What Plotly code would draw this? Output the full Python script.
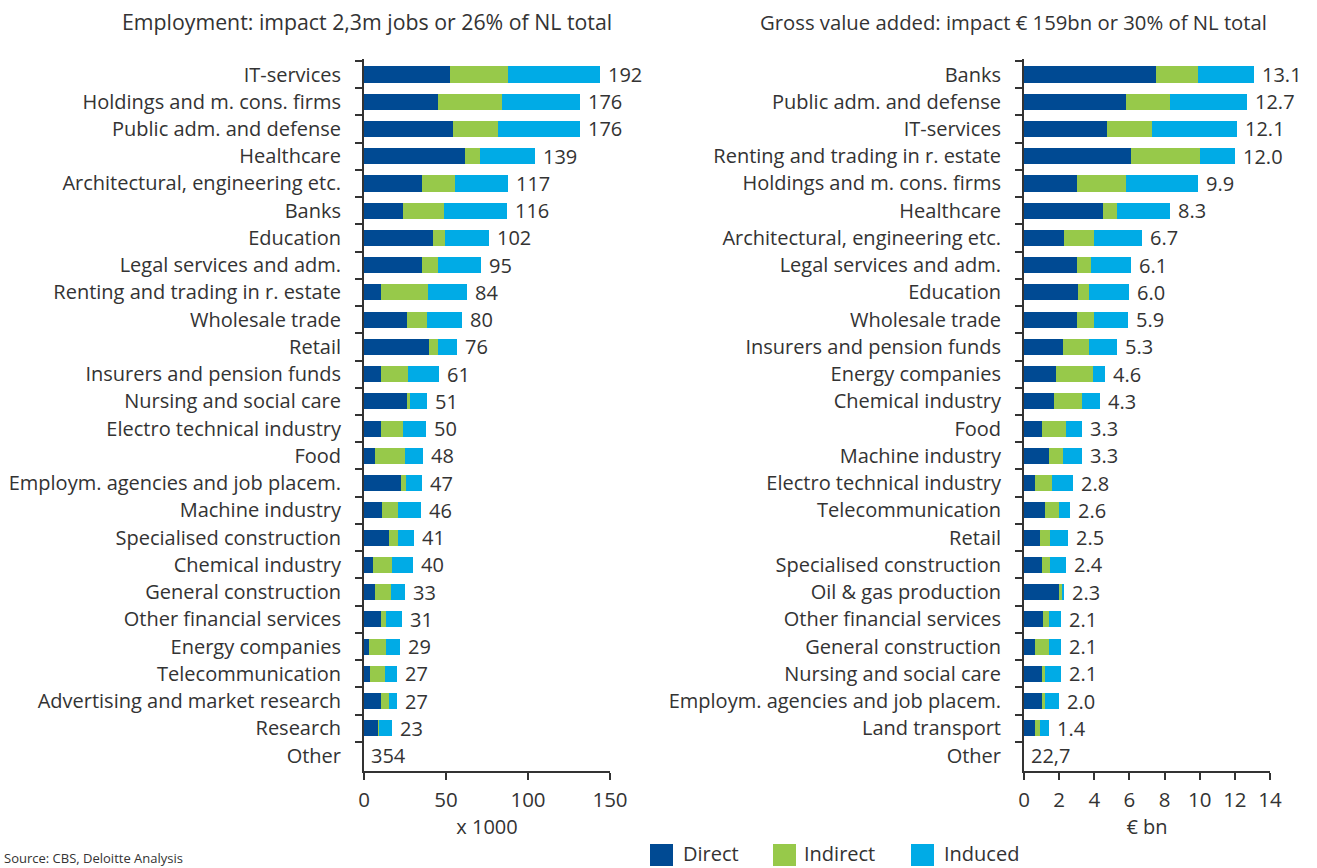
import plotly.graph_objects as go

W, H = 1317, 868

# ---- Employment (thousand jobs) ----
emp_sectors = [
    "IT-services", "Holdings and m. cons. firms", "Public adm. and defense", "Healthcare",
    "Architectural, engineering etc.", "Banks", "Education", "Legal services and adm.",
    "Renting and trading in r. estate", "Wholesale trade", "Retail", "Insurers and pension funds",
    "Nursing and social care", "Electro technical industry", "Food",
    "Employm. agencies and job placem.", "Machine industry", "Specialised construction",
    "Chemical industry", "General construction", "Other financial services", "Energy companies",
    "Telecommunication", "Advertising and market research", "Research",
]
emp_direct = [70, 60, 72, 82, 47, 32, 56, 47, 14, 35, 53, 14, 35, 14, 9, 30, 15, 20, 7, 9, 14, 4, 5, 14, 11.5]
emp_indirect = [47, 52, 37, 12, 27, 33, 10, 13, 38, 16, 7, 22, 2, 18, 24, 4, 13, 8, 16, 13, 4, 14, 12, 6, 0.8]
emp_induced = [75, 64, 67, 45, 43, 51, 36, 35, 32, 29, 16, 25, 14, 18, 15, 13, 18, 13, 17, 11, 13, 11, 10, 7, 10.7]
emp_other = 354
# bars are plotted in full-time equivalents on the "x 1000" axis
FTE_PER_JOB = 0.75

# ---- Gross value added (EUR bn) ----
gva_sectors = [
    "Banks", "Public adm. and defense", "IT-services", "Renting and trading in r. estate",
    "Holdings and m. cons. firms", "Healthcare", "Architectural, engineering etc.",
    "Legal services and adm.", "Education", "Wholesale trade", "Insurers and pension funds",
    "Energy companies", "Chemical industry", "Food", "Machine industry",
    "Electro technical industry", "Telecommunication", "Retail", "Specialised construction",
    "Oil & gas production", "Other financial services", "General construction",
    "Nursing and social care", "Employm. agencies and job placem.", "Land transport",
]
gva_direct = [7.5, 5.8, 4.7, 6.1, 3.0, 4.5, 2.3, 3.0, 3.1, 3.0, 2.2, 1.8, 1.7, 1.0, 1.4, 0.6, 1.2, 0.9, 1.0, 2.0, 1.1, 0.6, 1.0, 1.0, 0.6]
gva_indirect = [2.4, 2.5, 2.6, 3.9, 2.8, 0.8, 1.7, 0.8, 0.6, 1.0, 1.5, 2.1, 1.6, 1.4, 0.8, 1.0, 0.8, 0.6, 0.5, 0.2, 0.3, 0.8, 0.2, 0.2, 0.3]
gva_induced = [3.2, 4.4, 4.8, 2.0, 4.1, 3.0, 2.7, 2.3, 2.3, 1.9, 1.6, 0.7, 1.0, 0.9, 1.1, 1.2, 0.6, 1.0, 0.9, 0.1, 0.7, 0.7, 0.9, 0.8, 0.5]
gva_other = 22.7

components = ["Direct", "Indirect", "Induced"]
colors = {"Direct": "#004A93", "Indirect": "#97C94A", "Induced": "#00ABE6"}

FONT = "Open Sans"
TXT = "#333333"
AX = "#333333"


def px_x(p):
    return p / W


def px_y(p):
    return 1 - p / H


fig = go.Figure()

emp_series = {"Direct": emp_direct, "Indirect": emp_indirect, "Induced": emp_induced}
gva_series = {"Direct": gva_direct, "Indirect": gva_indirect, "Induced": gva_induced}

for name in components:
    fig.add_trace(go.Bar(
        y=emp_sectors, x=[v * FTE_PER_JOB for v in emp_series[name]], orientation="h",
        marker=dict(color=colors[name], line=dict(width=0)), name=name,
        xaxis="x", yaxis="y", showlegend=False,
    ))
for name in components:
    fig.add_trace(go.Bar(
        y=gva_sectors, x=gva_series[name], orientation="h",
        marker=dict(color=colors[name], line=dict(width=0)), name=name,
        xaxis="x2", yaxis="y2", showlegend=False,
    ))

VAL_FONT = dict(family=FONT, size=20, color=TXT)
annotations = []
# value labels at the end of each stacked bar
for i, s in enumerate(emp_sectors):
    total = emp_direct[i] + emp_indirect[i] + emp_induced[i]
    annotations.append(dict(x=total * FTE_PER_JOB, y=s, xref="x", yref="y", text=str(int(round(total))),
                            xanchor="left", yanchor="middle", xshift=6, showarrow=False, font=VAL_FONT))
annotations.append(dict(x=0, y="Other", xref="x", yref="y", text=str(emp_other),
                        xanchor="left", yanchor="middle", xshift=5, showarrow=False, font=VAL_FONT))
for i, s in enumerate(gva_sectors):
    total = gva_direct[i] + gva_indirect[i] + gva_induced[i]
    annotations.append(dict(x=total, y=s, xref="x2", yref="y2", text=f"{round(total, 1):.1f}",
                            xanchor="left", yanchor="middle", xshift=6, showarrow=False, font=VAL_FONT))
annotations.append(dict(x=0, y="Other", xref="x2", yref="y2", text=f"{gva_other:.1f}".replace(".", ","),
                        xanchor="left", yanchor="middle", xshift=5, showarrow=False, font=VAL_FONT))

# panel titles
annotations.append(dict(x=px_x(367), y=px_y(22), xref="paper", yref="paper",
                        text="Employment: impact 2,3m jobs or 26% of NL total",
                        xanchor="center", yanchor="middle", showarrow=False,
                        font=dict(family=FONT, size=21.3, color=TXT)))
annotations.append(dict(x=px_x(1013), y=px_y(22), xref="paper", yref="paper",
                        text="Gross value added: impact € 159bn or 30% of NL total",
                        xanchor="center", yanchor="middle", showarrow=False,
                        font=dict(family=FONT, size=20.3, color=TXT)))

# source note
annotations.append(dict(x=px_x(2), y=px_y(858), xref="paper", yref="paper",
                        text="Source: CBS, Deloitte Analysis",
                        xanchor="left", yanchor="middle", showarrow=False,
                        font=dict(family=FONT, size=13, color=TXT)))

# legend drawn as swatches + labels
shapes = []
legend_items = [("Direct", 650, 682), ("Indirect", 773, 803), ("Induced", 911, 943)]
for name, sx, tx in legend_items:
    shapes.append(dict(type="rect", xref="paper", yref="paper",
                       x0=px_x(sx), x1=px_x(sx + 23), y0=px_y(866), y1=px_y(844),
                       fillcolor=colors[name], line=dict(width=0)))
    annotations.append(dict(x=px_x(tx), y=px_y(868), xref="paper", yref="paper", text=name,
                            xanchor="left", yanchor="bottom", showarrow=False, borderpad=0,
                            font=dict(family=FONT, size=20, color=TXT)))

y_top, y_bot = 59, 771
ydom = [px_y(y_bot), px_y(y_top)]

yaxis_common = dict(
    type="category", autorange="reversed", tickson="boundaries", ticks="outside",
    ticklen=7, tickwidth=2, tickcolor=AX, showline=True, linecolor=AX, linewidth=2,
    showgrid=False, zeroline=False, ticklabelstandoff=17, automargin=False,
    tickfont=dict(family=FONT, size=20, color=TXT), domain=ydom,
)
xaxis_common = dict(
    ticks="outside", ticklen=7, tickwidth=2, tickcolor=AX, showline=True, linecolor=AX,
    linewidth=2, showgrid=False, zeroline=False, ticklabelstandoff=2, automargin=False,
    tickfont=dict(family=FONT, size=20.5, color=TXT),
)

fig.update_layout(
    width=W, height=H, barmode="stack", bargap=0.41, showlegend=False,
    margin=dict(l=0, r=0, t=0, b=0, autoexpand=False),
    paper_bgcolor="white", plot_bgcolor="white",
    font=dict(family=FONT, color=TXT),
    xaxis=dict(**xaxis_common, domain=[px_x(364), px_x(610)], range=[0, 150],
               tickvals=[0, 50, 100, 150], anchor="y",
               title=dict(text="x 1000", font=dict(family=FONT, size=20, color=TXT), standoff=8)),
    yaxis=dict(**yaxis_common, anchor="x", categoryorder="array",
               categoryarray=emp_sectors + ["Other"]),
    xaxis2=dict(**xaxis_common, domain=[px_x(1024), px_x(1270)], range=[0, 14],
                tickvals=list(range(0, 15, 2)), anchor="y2",
                title=dict(text="€ bn", font=dict(family=FONT, size=20, color=TXT), standoff=8)),
    yaxis2=dict(**yaxis_common, anchor="x2", categoryorder="array",
                categoryarray=gva_sectors + ["Other"]),
    annotations=annotations, shapes=shapes,
)

fig.write_html("out.html")
